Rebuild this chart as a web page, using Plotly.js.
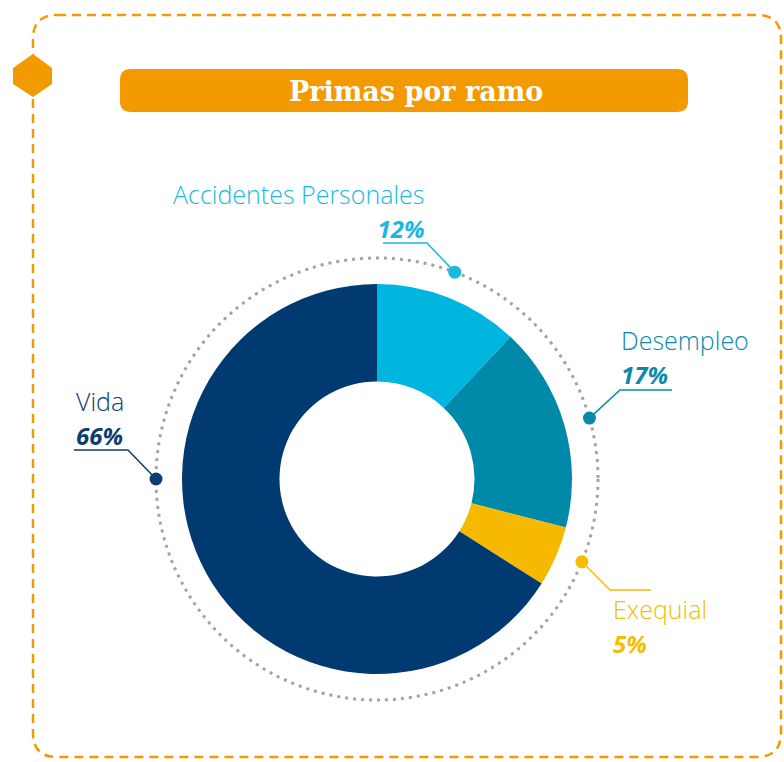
<!DOCTYPE html>
<html><head><meta charset="utf-8">
<script src="https://cdn.plot.ly/plotly-3.0.1.min.js"></script>
<style>html,body{margin:0;padding:0;background:#fff}#chart{width:784px;height:762px}</style>
</head><body><div id="chart"></div>
<script>
// ---- data ----
const chartTitle = "Primas por ramo";
const categories = ["Accidentes Personales", "Desempleo", "Exequial", "Vida"];
const shares = [12, 17, 5, 66];
const pctLabels = ["12%", "17%", "5%", "66%"];

// ---- styles / layout config ----
const sliceColors = ["#00b6de", "#0089a9", "#f7b900", "#003a70"];
const textColors = ["#1ab8e0", "#0a8aa8", "#f5bc00", "#0b3d72"];
const W = 784, H = 762;
const cx = 377, cy = 479, R = 195, ringR = 221;
const orange = "#f39a00";
const callouts = [
  {ang: 20.6, elbow: [427, 243], end: [383, 243], tx: 426, anchor: "right", midY: 211},
  {ang: 74,   elbow: [620, 390], end: [672, 390], tx: 619, anchor: "left",  midY: 357},
  {ang: 112,  elbow: [610, 590], end: [651, 590], tx: 611, anchor: "left",  midY: 626},
  {ang: 270,  elbow: [128, 450], end: [74, 450],  tx: 74,  anchor: "left",  midY: 418}
];
const textFont = "'Open Sans', 'Noto Sans', sans-serif";

const pie = {
  type: "pie", values: shares, labels: categories, sort: false, direction: "clockwise",
  rotation: 0, hole: 0.5, textinfo: "none", hoverinfo: "label+percent",
  marker: {colors: sliceColors, line: {width: 0}},
  domain: {x: [(cx - R) / W, (cx + R) / W], y: [(H - cy - R) / H, (H - cy + R) / H]},
  showlegend: false
};

function rrect(x0, y0, x1, y1, r) {
  return `M ${x0 + r},${y0} L ${x1 - r},${y0} Q ${x1},${y0} ${x1},${y0 + r} L ${x1},${y1 - r} Q ${x1},${y1} ${x1 - r},${y1} L ${x0 + r},${y1} Q ${x0},${y1} ${x0},${y1 - r} L ${x0},${y0 + r} Q ${x0},${y0} ${x0 + r},${y0} Z`;
}

const shapes = [
  {type: "path", xref: "x", yref: "y", path: rrect(33, 15, 781, 757, 24),
   line: {color: orange, width: 2.5, dash: "9px,6px"}, layer: "below"},
  {type: "path", xref: "x", yref: "y", path: "M 33,54 L 52,68 L 52,84 L 33,97 L 13,84 L 13,68 Z",
   fillcolor: orange, line: {width: 0}},
  {type: "path", xref: "x", yref: "y", path: rrect(120, 69, 688, 112, 11),
   fillcolor: orange, line: {width: 0}},
  {type: "circle", xref: "x", yref: "y", x0: cx - ringR, x1: cx + ringR, y0: cy - ringR, y1: cy + ringR,
   line: {color: "#a3a3a3", width: 3, dash: "3px,5px"}, layer: "below"}
];

const annotations = [
  {xref: "x", yref: "y", x: 416, y: 91, text: "<b>" + chartTitle + "</b>", showarrow: false,
   xanchor: "center", yanchor: "middle",
   font: {family: "'DejaVu Serif', serif", size: 27, color: "#ffffff"}}
];

callouts.forEach((c, i) => {
  const a = c.ang * Math.PI / 180;
  const dx = cx + ringR * Math.sin(a), dy = cy - ringR * Math.cos(a);
  shapes.push({type: "path", xref: "x", yref: "y",
    path: `M ${dx},${dy} L ${c.elbow[0]},${c.elbow[1]} L ${c.end[0]},${c.end[1]}`,
    line: {color: textColors[i], width: 1.5}});
  shapes.push({type: "circle", xref: "x", yref: "y", x0: dx - 6.5, x1: dx + 6.5, y0: dy - 6.5, y1: dy + 6.5,
    fillcolor: textColors[i], line: {width: 0}});
  annotations.push({xref: "x", yref: "y", x: c.tx, y: c.midY,
    text: '<span style="font-size:25px;font-weight:300">' + categories[i] + '</span><br>' +
          '<span style="font-size:24px"><b><i>' + pctLabels[i] + '</i></b></span>',
    showarrow: false, xanchor: c.anchor, yanchor: "middle", align: c.anchor,
    font: {family: textFont, size: 26.5, color: textColors[i]}});
});

const layout = {
  width: W, height: H, margin: {l: 0, r: 0, t: 0, b: 0},
  paper_bgcolor: "#ffffff", plot_bgcolor: "rgba(0,0,0,0)",
  xaxis: {range: [0, W], visible: false, fixedrange: true},
  yaxis: {range: [H, 0], visible: false, fixedrange: true},
  shapes: shapes, annotations: annotations, showlegend: false
};

Plotly.newPlot("chart", [pie], layout, {displayModeBar: false, staticPlot: true});
</script>
</body></html>
